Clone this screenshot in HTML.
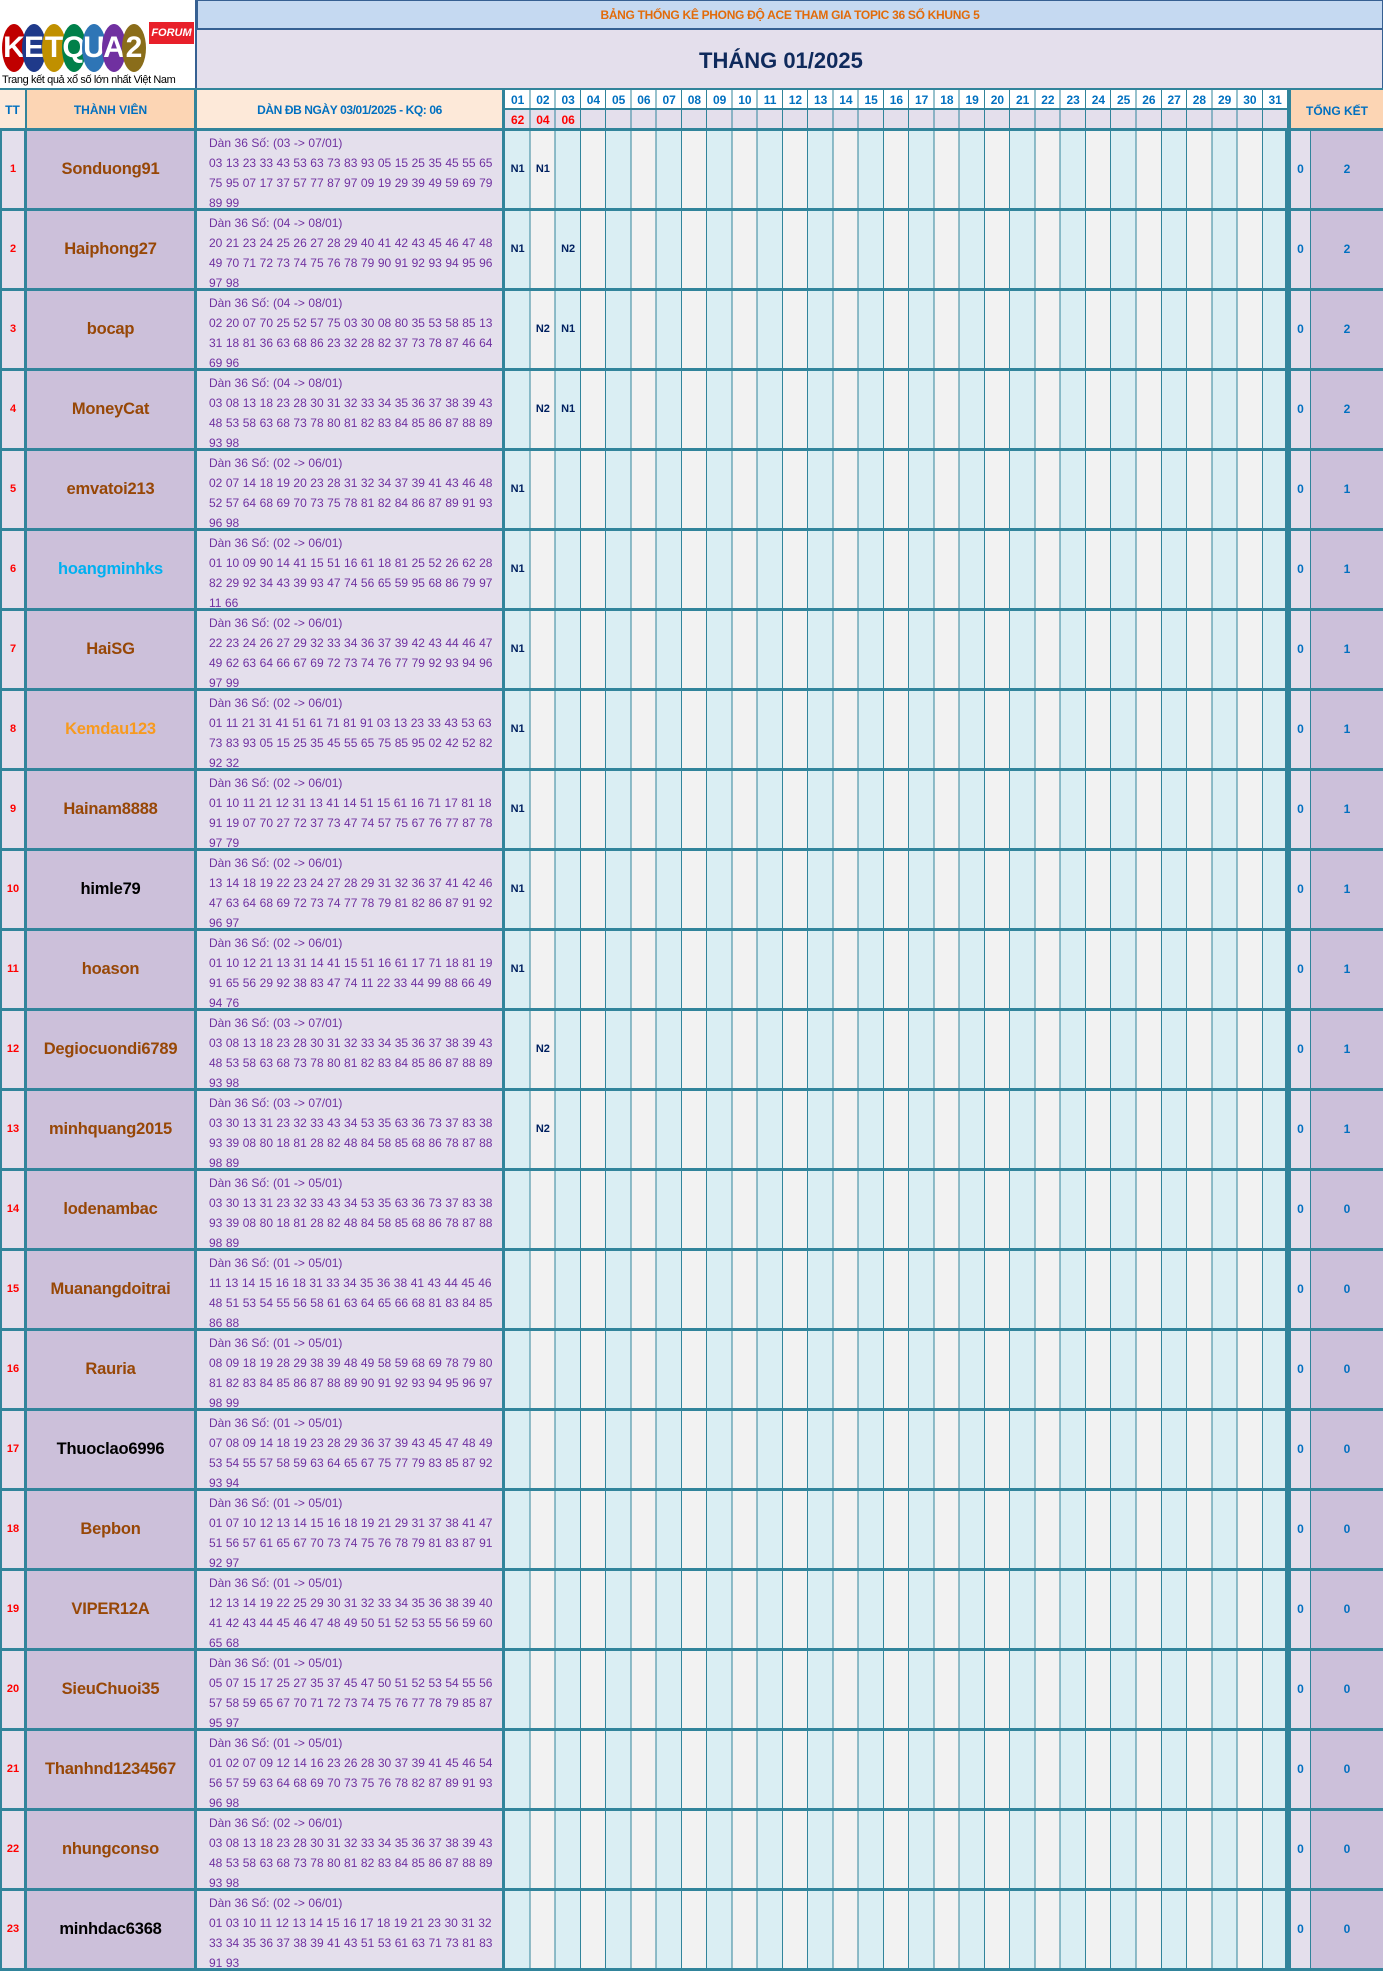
<!DOCTYPE html>
<html><head><meta charset="utf-8"><style>
*{margin:0;padding:0;box-sizing:border-box}
body{width:1383px;height:1972px;position:relative;background:#fff;font-family:"Liberation Sans",sans-serif;overflow:hidden}
.a{position:absolute}
.r{position:absolute;left:0;width:1383px;height:80px;border-bottom:3px solid #31849b}
.r>div{position:absolute;top:0;height:77px}
.tt{left:0;width:27px;background:#e4dfec;color:#f00;font-size:11px;font-weight:bold;text-align:center;line-height:77px;border-left:2px solid #31849b;border-right:3px solid #31849b}
.nm{left:27px;width:170px;background:#ccc0da;color:#974706;font-size:16.5px;font-weight:bold;text-align:center;line-height:77px;border-right:3px solid #31849b;letter-spacing:-0.2px}
.dn{left:197px;width:308px;background:#e4dfec;color:#7030a0;font-size:12px;line-height:20px;padding:2px 0 0 12px;white-space:nowrap;letter-spacing:0;word-spacing:0.2px;border-right:3px solid #31849b;overflow:hidden}
.dy{left:505px;width:783px;background:repeating-linear-gradient(90deg,#daeef3 0,#daeef3 24.26px,#31849b 24.26px,#31849b 25.26px,#f2f2f2 25.26px,#f2f2f2 49.52px,#31849b 49.52px,#31849b 50.52px);border-right:3px solid #31849b}
.dy b{position:absolute;top:0;width:25.26px;text-align:center;line-height:77px;font-size:11px;color:#002060}
.z{left:1288px;width:23px;background:#e4dfec;color:#0070c0;font-weight:bold;font-size:12px;text-align:center;line-height:77px;border-left:3px solid #31849b;border-right:1px solid #31849b}
.t{left:1311px;width:72px;background:#ccc0da;color:#0070c0;font-weight:bold;font-size:12px;text-align:center;line-height:77px}
.hd{font-size:12px;font-weight:bold;color:#0070c0;text-align:center}
.circ{position:absolute;top:24px;width:24px;height:48px;border-radius:50%;color:#fff;font-weight:bold;font-size:30px;line-height:48px;text-align:center;font-family:"Liberation Sans",sans-serif}
</style></head><body>
<div class="a" style="left:0;top:0;width:197px;height:90px;background:#fff;border-right:2px solid #366092"></div>
<div class="circ" style="left:2px;background:#c00000">K</div>
<div class="circ" style="left:22px;background:#1f3a8a">E</div>
<div class="circ" style="left:42px;background:#c09000">T</div>
<div class="circ" style="left:62px;background:#00804a">Q</div>
<div class="circ" style="left:82px;background:#2e75b6">U</div>
<div class="circ" style="left:102px;background:#7030a0">A</div>
<div class="circ" style="left:122px;background:#8a6d1a">2</div>
<div class="a" style="left:149px;top:22px;width:45px;height:22px;background:#e8202a;color:#fff;font-size:11px;font-weight:bold;font-style:italic;text-align:center;line-height:22px">FORUM</div>
<div class="a" style="left:2px;top:74px;font-size:11px;color:#000;white-space:nowrap;letter-spacing:-0.4px">Trang kết quả xổ số lớn nhất Việt Nam</div>
<div class="a" style="left:197px;top:0;width:1186px;height:30px;background:#c5d9f1;border:1px solid #366092;border-bottom:2px solid #366092;color:#e26b0a;font-size:12px;font-weight:bold;text-align:center;line-height:28px;letter-spacing:-0.3px">BẢNG THỐNG KÊ PHONG ĐỘ ACE THAM GIA TOPIC 36 SỐ KHUNG 5</div>
<div class="a" style="left:197px;top:30px;width:1186px;height:58px;background:#e4dfec;border-right:1px solid #366092;color:#0f2a5c;font-size:22px;font-weight:bold;line-height:62px;padding-left:502px">THÁNG 01/2025</div>
<div class="a" style="left:0;top:88px;width:1383px;height:2px;background:#31849b"></div>
<div class="a hd" style="left:0;top:90px;width:27px;height:41px;background:#fde9d9;line-height:41px;border-right:2px solid #31849b">TT</div>
<div class="a hd" style="left:27px;top:90px;width:170px;height:41px;background:#fcd5b4;line-height:41px;border-right:3px solid #31849b">THÀNH VIÊN</div>
<div class="a hd" style="left:197px;top:90px;width:308px;height:41px;background:#fde9d9;line-height:41px;border-right:3px solid #31849b;letter-spacing:-0.4px">DÀN ĐB NGÀY 03/01/2025 - KQ: 06</div>
<div class="a" style="left:505px;top:90px;width:783px;height:20px;background:repeating-linear-gradient(90deg,#fff 0,#fff 24.26px,#31849b 24.26px,#31849b 25.26px);border-bottom:2px solid #31849b"></div>
<div class="a" style="left:505px;top:110px;width:783px;height:21px;background:repeating-linear-gradient(90deg,#e4dfec 0,#e4dfec 24.26px,#31849b 24.26px,#31849b 25.26px)"></div>
<div class="a hd" style="left:505px;top:90px;width:783px;height:20px;line-height:20px;display:flex">
<span style="width:25.26px">01</span><span style="width:25.26px">02</span><span style="width:25.26px">03</span><span style="width:25.26px">04</span><span style="width:25.26px">05</span><span style="width:25.26px">06</span><span style="width:25.26px">07</span><span style="width:25.26px">08</span><span style="width:25.26px">09</span><span style="width:25.26px">10</span><span style="width:25.26px">11</span><span style="width:25.26px">12</span><span style="width:25.26px">13</span><span style="width:25.26px">14</span><span style="width:25.26px">15</span><span style="width:25.26px">16</span><span style="width:25.26px">17</span><span style="width:25.26px">18</span><span style="width:25.26px">19</span><span style="width:25.26px">20</span><span style="width:25.26px">21</span><span style="width:25.26px">22</span><span style="width:25.26px">23</span><span style="width:25.26px">24</span><span style="width:25.26px">25</span><span style="width:25.26px">26</span><span style="width:25.26px">27</span><span style="width:25.26px">28</span><span style="width:25.26px">29</span><span style="width:25.26px">30</span><span style="width:25.26px">31</span></div>
<div class="a hd" style="left:505px;top:110px;height:21px;line-height:21px;display:flex;color:#f00"><span style="width:25.26px">62</span><span style="width:25.26px">04</span><span style="width:25.26px">06</span></div>
<div class="a hd" style="left:1288px;top:88px;width:95px;height:43px;background:#fcd5b4;line-height:43px;border-left:3px solid #31849b;border-top:2px solid #31849b">TỔNG KẾT</div>
<div class="a" style="left:0;top:128px;width:1383px;height:3px;background:#31849b"></div>

<div class="r" style="top:131px"><div class="tt">1</div><div class="nm">Sonduong91</div><div class="dn">Dàn 36 Số: (03 -&gt; 07/01)<br>03 13 23 33 43 53 63 73 83 93 05 15 25 35 45 55 65<br>75 95 07 17 37 57 77 87 97 09 19 29 39 49 59 69 79<br>89 99</div><div class="dy"><b style="left:0">N1</b><b style="left:25.26px">N1</b></div><div class="z">0</div><div class="t">2</div></div>
<div class="r" style="top:211px"><div class="tt">2</div><div class="nm">Haiphong27</div><div class="dn">Dàn 36 Số: (04 -&gt; 08/01)<br>20 21 23 24 25 26 27 28 29 40 41 42 43 45 46 47 48<br>49 70 71 72 73 74 75 76 78 79 90 91 92 93 94 95 96<br>97 98</div><div class="dy"><b style="left:0">N1</b><b style="left:50.52px">N2</b></div><div class="z">0</div><div class="t">2</div></div>
<div class="r" style="top:291px"><div class="tt">3</div><div class="nm">bocap</div><div class="dn">Dàn 36 Số: (04 -&gt; 08/01)<br>02 20 07 70 25 52 57 75 03 30 08 80 35 53 58 85 13<br>31 18 81 36 63 68 86 23 32 28 82 37 73 78 87 46 64<br>69 96</div><div class="dy"><b style="left:25.26px">N2</b><b style="left:50.52px">N1</b></div><div class="z">0</div><div class="t">2</div></div>
<div class="r" style="top:371px"><div class="tt">4</div><div class="nm">MoneyCat</div><div class="dn">Dàn 36 Số: (04 -&gt; 08/01)<br>03 08 13 18 23 28 30 31 32 33 34 35 36 37 38 39 43<br>48 53 58 63 68 73 78 80 81 82 83 84 85 86 87 88 89<br>93 98</div><div class="dy"><b style="left:25.26px">N2</b><b style="left:50.52px">N1</b></div><div class="z">0</div><div class="t">2</div></div>
<div class="r" style="top:451px"><div class="tt">5</div><div class="nm">emvatoi213</div><div class="dn">Dàn 36 Số: (02 -&gt; 06/01)<br>02 07 14 18 19 20 23 28 31 32 34 37 39 41 43 46 48<br>52 57 64 68 69 70 73 75 78 81 82 84 86 87 89 91 93<br>96 98</div><div class="dy"><b style="left:0">N1</b></div><div class="z">0</div><div class="t">1</div></div>
<div class="r" style="top:531px"><div class="tt">6</div><div class="nm" style="color:#00b0f0">hoangminhks</div><div class="dn">Dàn 36 Số: (02 -&gt; 06/01)<br>01 10 09 90 14 41 15 51 16 61 18 81 25 52 26 62 28<br>82 29 92 34 43 39 93 47 74 56 65 59 95 68 86 79 97<br>11 66</div><div class="dy"><b style="left:0">N1</b></div><div class="z">0</div><div class="t">1</div></div>
<div class="r" style="top:611px"><div class="tt">7</div><div class="nm">HaiSG</div><div class="dn">Dàn 36 Số: (02 -&gt; 06/01)<br>22 23 24 26 27 29 32 33 34 36 37 39 42 43 44 46 47<br>49 62 63 64 66 67 69 72 73 74 76 77 79 92 93 94 96<br>97 99</div><div class="dy"><b style="left:0">N1</b></div><div class="z">0</div><div class="t">1</div></div>
<div class="r" style="top:691px"><div class="tt">8</div><div class="nm" style="color:#f79a1e">Kemdau123</div><div class="dn">Dàn 36 Số: (02 -&gt; 06/01)<br>01 11 21 31 41 51 61 71 81 91 03 13 23 33 43 53 63<br>73 83 93 05 15 25 35 45 55 65 75 85 95 02 42 52 82<br>92 32</div><div class="dy"><b style="left:0">N1</b></div><div class="z">0</div><div class="t">1</div></div>
<div class="r" style="top:771px"><div class="tt">9</div><div class="nm">Hainam8888</div><div class="dn">Dàn 36 Số: (02 -&gt; 06/01)<br>01 10 11 21 12 31 13 41 14 51 15 61 16 71 17 81 18<br>91 19 07 70 27 72 37 73 47 74 57 75 67 76 77 87 78<br>97 79</div><div class="dy"><b style="left:0">N1</b></div><div class="z">0</div><div class="t">1</div></div>
<div class="r" style="top:851px"><div class="tt">10</div><div class="nm" style="color:#000">himle79</div><div class="dn">Dàn 36 Số: (02 -&gt; 06/01)<br>13 14 18 19 22 23 24 27 28 29 31 32 36 37 41 42 46<br>47 63 64 68 69 72 73 74 77 78 79 81 82 86 87 91 92<br>96 97</div><div class="dy"><b style="left:0">N1</b></div><div class="z">0</div><div class="t">1</div></div>
<div class="r" style="top:931px"><div class="tt">11</div><div class="nm">hoason</div><div class="dn">Dàn 36 Số: (02 -&gt; 06/01)<br>01 10 12 21 13 31 14 41 15 51 16 61 17 71 18 81 19<br>91 65 56 29 92 38 83 47 74 11 22 33 44 99 88 66 49<br>94 76</div><div class="dy"><b style="left:0">N1</b></div><div class="z">0</div><div class="t">1</div></div>
<div class="r" style="top:1011px"><div class="tt">12</div><div class="nm">Degiocuondi6789</div><div class="dn">Dàn 36 Số: (03 -&gt; 07/01)<br>03 08 13 18 23 28 30 31 32 33 34 35 36 37 38 39 43<br>48 53 58 63 68 73 78 80 81 82 83 84 85 86 87 88 89<br>93 98</div><div class="dy"><b style="left:25.26px">N2</b></div><div class="z">0</div><div class="t">1</div></div>
<div class="r" style="top:1091px"><div class="tt">13</div><div class="nm">minhquang2015</div><div class="dn">Dàn 36 Số: (03 -&gt; 07/01)<br>03 30 13 31 23 32 33 43 34 53 35 63 36 73 37 83 38<br>93 39 08 80 18 81 28 82 48 84 58 85 68 86 78 87 88<br>98 89</div><div class="dy"><b style="left:25.26px">N2</b></div><div class="z">0</div><div class="t">1</div></div>
<div class="r" style="top:1171px"><div class="tt">14</div><div class="nm">lodenambac</div><div class="dn">Dàn 36 Số: (01 -&gt; 05/01)<br>03 30 13 31 23 32 33 43 34 53 35 63 36 73 37 83 38<br>93 39 08 80 18 81 28 82 48 84 58 85 68 86 78 87 88<br>98 89</div><div class="dy"></div><div class="z">0</div><div class="t">0</div></div>
<div class="r" style="top:1251px"><div class="tt">15</div><div class="nm">Muanangdoitrai</div><div class="dn">Dàn 36 Số: (01 -&gt; 05/01)<br>11 13 14 15 16 18 31 33 34 35 36 38 41 43 44 45 46<br>48 51 53 54 55 56 58 61 63 64 65 66 68 81 83 84 85<br>86 88</div><div class="dy"></div><div class="z">0</div><div class="t">0</div></div>
<div class="r" style="top:1331px"><div class="tt">16</div><div class="nm">Rauria</div><div class="dn">Dàn 36 Số: (01 -&gt; 05/01)<br>08 09 18 19 28 29 38 39 48 49 58 59 68 69 78 79 80<br>81 82 83 84 85 86 87 88 89 90 91 92 93 94 95 96 97<br>98 99</div><div class="dy"></div><div class="z">0</div><div class="t">0</div></div>
<div class="r" style="top:1411px"><div class="tt">17</div><div class="nm" style="color:#000">Thuoclao6996</div><div class="dn">Dàn 36 Số: (01 -&gt; 05/01)<br>07 08 09 14 18 19 23 28 29 36 37 39 43 45 47 48 49<br>53 54 55 57 58 59 63 64 65 67 75 77 79 83 85 87 92<br>93 94</div><div class="dy"></div><div class="z">0</div><div class="t">0</div></div>
<div class="r" style="top:1491px"><div class="tt">18</div><div class="nm">Bepbon</div><div class="dn">Dàn 36 Số: (01 -&gt; 05/01)<br>01 07 10 12 13 14 15 16 18 19 21 29 31 37 38 41 47<br>51 56 57 61 65 67 70 73 74 75 76 78 79 81 83 87 91<br>92 97</div><div class="dy"></div><div class="z">0</div><div class="t">0</div></div>
<div class="r" style="top:1571px"><div class="tt">19</div><div class="nm">VIPER12A</div><div class="dn">Dàn 36 Số: (01 -&gt; 05/01)<br>12 13 14 19 22 25 29 30 31 32 33 34 35 36 38 39 40<br>41 42 43 44 45 46 47 48 49 50 51 52 53 55 56 59 60<br>65 68</div><div class="dy"></div><div class="z">0</div><div class="t">0</div></div>
<div class="r" style="top:1651px"><div class="tt">20</div><div class="nm">SieuChuoi35</div><div class="dn">Dàn 36 Số: (01 -&gt; 05/01)<br>05 07 15 17 25 27 35 37 45 47 50 51 52 53 54 55 56<br>57 58 59 65 67 70 71 72 73 74 75 76 77 78 79 85 87<br>95 97</div><div class="dy"></div><div class="z">0</div><div class="t">0</div></div>
<div class="r" style="top:1731px"><div class="tt">21</div><div class="nm">Thanhnd1234567</div><div class="dn">Dàn 36 Số: (01 -&gt; 05/01)<br>01 02 07 09 12 14 16 23 26 28 30 37 39 41 45 46 54<br>56 57 59 63 64 68 69 70 73 75 76 78 82 87 89 91 93<br>96 98</div><div class="dy"></div><div class="z">0</div><div class="t">0</div></div>
<div class="r" style="top:1811px"><div class="tt">22</div><div class="nm">nhungconso</div><div class="dn">Dàn 36 Số: (02 -&gt; 06/01)<br>03 08 13 18 23 28 30 31 32 33 34 35 36 37 38 39 43<br>48 53 58 63 68 73 78 80 81 82 83 84 85 86 87 88 89<br>93 98</div><div class="dy"></div><div class="z">0</div><div class="t">0</div></div>
<div class="r" style="top:1891px"><div class="tt">23</div><div class="nm" style="color:#000">minhdac6368</div><div class="dn">Dàn 36 Số: (02 -&gt; 06/01)<br>01 03 10 11 12 13 14 15 16 17 18 19 21 23 30 31 32<br>33 34 35 36 37 38 39 41 43 51 53 61 63 71 73 81 83<br>91 93</div><div class="dy"></div><div class="z">0</div><div class="t">0</div></div>
</body></html>
